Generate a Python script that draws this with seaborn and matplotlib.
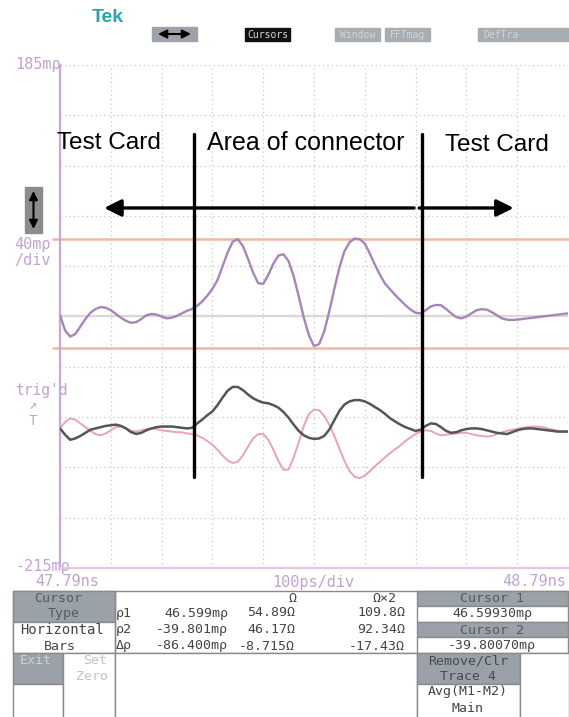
import pandas as pd
import seaborn as sns
import matplotlib.pyplot as plt
from matplotlib.patches import Rectangle

sns.set_style("white")
plt.rcParams['font.family'] = ['DejaVu Sans']

'''scope data: time in ps after 47.79 ns, levels in m-rho'''
t_ps = list(range(0, 1001, 10))

rho_trace = [-14, -26, -31, -29, -23, -17, -12, -9, -7.5, -8,
             -10, -13, -16, -18.5, -20, -19.5, -17, -14, -13, -13.5,
             -15, -16.5, -16, -14.5, -12.5, -10.5, -9, -6.5, -3, 1.5,
             7, 14, 25, 36, 44.5, 46.5, 41, 31, 20, 11.5,
             11, 18, 27, 33.5, 34.5, 29, 17, 1, -16, -30,
             -38.5, -37, -27, -11, 7, 24, 37, 44, 47, 46.5,
             43, 35, 26, 18, 11, 6.5, 2, -2, -6, -9.5,
             -12, -12.5, -10, -7, -5.8, -6, -9, -12.5, -15.5, -16.5,
             -15, -12.5, -10, -9.2, -9.5, -11.5, -14, -16.5, -17.5, -17.8,
             -17.5, -17, -16.5, -16, -15.5, -15, -14.5, -14, -13.5, -13,
             -12.5]

m1_trace = [-104, -109, -113, -112, -110, -107.5, -105, -104, -103, -102,
            -101.5, -101, -102, -104, -107, -108.4, -107.5, -105.5, -104, -103,
            -102.5, -102.5, -102.5, -103, -103.5, -104, -103.5, -100, -97, -93.5,
            -90.5, -85.5, -79.5, -74, -71, -71, -73.5, -77, -80, -82,
            -83.5, -84, -85.5, -87.5, -91, -95.5, -101, -106, -109.5, -111.5,
            -112.3, -112, -110, -105, -97.5, -90, -85, -82.5, -81.5, -81.5,
            -82.5, -84.5, -87, -89.5, -92.5, -96, -98.5, -101, -103, -104.5,
            -106, -105, -102, -100, -100.5, -103, -106, -107.5, -107, -105.5,
            -104.5, -104, -104, -104.5, -105.5, -106.5, -107.5, -108, -108.5, -107,
            -105.5, -104.5, -104, -104, -104.5, -105, -105.5, -106, -106.5, -106.5,
            -106.5]

m2_trace = [-104, -99, -96, -97, -100, -103, -106, -108.5, -109.5, -108,
            -105.5, -103, -102.5, -104, -106, -106.5, -105.5, -104.5, -104, -104.5,
            -105.5, -106, -106.5, -107, -107, -108, -108.5, -109.5, -111.5, -114,
            -117, -121, -125.5, -129.5, -131.5, -130.5, -125.5, -118.5, -112, -108.5,
            -108.5, -113, -121, -130, -137, -136.5, -127, -115, -102, -92.5,
            -89, -89.5, -94, -101, -110, -120, -130, -138, -142.5, -143.5,
            -141.5, -138, -134, -130.5, -127, -123.5, -120.5, -117.5, -114, -111,
            -108.5, -106.5, -105.5, -106, -108, -109.5, -109, -108.5, -108, -107.5,
            -107.5, -108.5, -109.5, -110, -110.5, -110, -108.5, -107, -106, -105,
            -104.5, -103.5, -103, -102.5, -102.5, -103, -104, -105, -106, -106.5,
            -106.5]

cursor_levels = [46.599, -39.801]
reference_level = -15
connector_edges = [263.7, 712]
y_min, y_max = -215, 185

df = pd.DataFrame({"t": t_ps, "rho": rho_trace, "m1": m1_trace, "m2": m2_trace})

W, H = 569, 717
fig = plt.figure(figsize=(W / 100, H / 100), dpi=100)
fig.patch.set_facecolor("white")

'''overlay in pixel units for the scope menus'''
ui = fig.add_axes([0, 0, 1, 1])
ui.set_xlim(0, W)
ui.set_ylim(H, 0)
ui.axis("off")

mono = "DejaVu Sans Mono"
lab_col = "#c2a2d2"
panel_gray = "#9aa1a8"
edge = "#8a8a8a"


def box(x0, y0, x1, y1, fc="white", ec=edge, lw=1):
    ui.add_patch(Rectangle((x0, y0), x1 - x0, y1 - y0, fc=fc, ec=ec, lw=lw))


def txt(x, y, s, col="#444444", size=9.5, ha="center", fam=mono, **kw):
    ui.text(x, y, s, color=col, fontsize=size, ha=ha, va="center", family=fam, **kw)


# top bar
txt(108, 18, "Tek", col="#2aa3ad", size=14, fam="Liberation Sans", weight="bold")
box(152, 27, 197, 41, fc="#9ea3a9", ec="#9ea3a9")
ui.annotate("", xy=(191, 34), xytext=(158, 34),
            arrowprops=dict(arrowstyle="<|-|>,head_length=0.5,head_width=0.25",
                            color="black", lw=1.5, shrinkA=0, shrinkB=0))
box(245, 28, 290, 41, fc="#111111", ec="#111111")
txt(267.5, 34.5, "Cursors", col="#d8d8d8", size=7)
box(335, 28, 380, 41, fc="#a8adb2", ec="#a8adb2")
txt(357.5, 34.5, "Window", col="#d4d4d4", size=7)
box(385, 28, 430, 41, fc="#a8adb2", ec="#a8adb2")
txt(407.5, 34.5, "FFTmag", col="#d4d4d4", size=7)
box(478, 28, 575, 41, fc="#a8adb2", ec="#a8adb2")
txt(483, 34.5, "DefTra", col="#d4d4d4", size=7, ha="left")

# left side labels
txt(15, 65, "185m\u03c1", col=lab_col, ha="left", size=11)
box(25, 187, 42, 233, fc="#8c8c8c", ec="#8c8c8c")
ui.annotate("", xy=(33.5, 191), xytext=(33.5, 229),
            arrowprops=dict(arrowstyle="<|-|>,head_length=0.5,head_width=0.25",
                            color="black", lw=1.5, shrinkA=0, shrinkB=0))
txt(14, 244, "40m\u03c1", col=lab_col, ha="left", size=11)
txt(14, 260, "/div", col=lab_col, ha="left", size=11)
txt(15, 390, "trig'd", col=lab_col, ha="left", size=10.5)
txt(33, 405, "\u2197", col=lab_col, size=10)
txt(33, 421, "T", col=lab_col, size=10)
txt(15, 567, "-215m\u03c1", col=lab_col, ha="left", size=11)
txt(35, 582, "47.79ns", col=lab_col, ha="left", size=11)
txt(313, 582, "100ps/div", col=lab_col, size=11)
txt(566, 582, "48.79ns", col=lab_col, ha="right", size=11)

# bottom readout panel
box(13, 591, 569, 653, ec=edge)
box(13, 591, 115, 622, fc=panel_gray)
box(13, 622, 115, 653)
box(13, 653, 63, 684, fc=panel_gray)
box(13, 684, 63, 720)
box(63, 653, 115, 720)
box(115, 653, 417, 720)
box(417, 591, 568, 606, fc=panel_gray)
box(417, 606, 568, 622)
box(417, 622, 568, 637, fc=panel_gray)
box(417, 637, 568, 653)
box(417, 653, 520, 684, fc=panel_gray)
box(417, 684, 520, 720)
box(520, 653, 569, 720)
ui.plot([115, 115], [591, 653], color=edge, lw=1)

txt(58, 598, "Cursor", col="#555b60")
txt(64, 613, "Type", col="#555b60")
txt(62, 630, "Horizontal", size=10)
txt(60, 646, "Bars")
txt(36, 661, "Exit", col="#d0d0d0")
txt(95, 661, "Set", col="#c4c4c4")
txt(92, 676, "Zero", col="#c4c4c4")

rows = [("\u03c11", "46.599m\u03c1", "54.89\u03a9", "109.8\u03a9"),
        ("\u03c12", "-39.801m\u03c1", "46.17\u03a9", "92.34\u03a9"),
        ("\u0394\u03c1", "-86.400m\u03c1", "-8.715\u03a9", "-17.43\u03a9")]
txt(297, 598, "\u03a9", ha="right")
txt(397, 598, "\u03a9\u00d72", ha="right")
for i, (a, b, c, d) in enumerate(rows):
    y = 613 + i * 16.5
    txt(116, y, a, ha="left")
    txt(228, y, b, ha="right")
    txt(295, y, c, ha="right")
    txt(405, y, d, ha="right")

txt(492, 598, "Cursor 1", col="#555b60")
txt(492, 614, "46.59930m\u03c1")
txt(492, 630, "Cursor 2", col="#555b60")
txt(492, 646, "-39.80070m\u03c1")
txt(468, 661, "Remove/Clr", col="#454a50")
txt(468, 676, "Trace 4", col="#454a50")
txt(468, 692, "Avg(M1-M2)")
txt(468, 708, "Main")

'''waveform graticule'''
ax = fig.add_axes([60 / W, 1 - 568 / H, 508 / W, 503 / H])
ax.set_facecolor("none")
ax.set_xlim(0, 1000)
ax.set_ylim(y_min, y_max)
ax.set_xticks(range(0, 1001, 100))
ax.set_yticks(range(y_min, y_max + 1, 40))
ax.tick_params(length=0, labelbottom=False, labelleft=False)
ax.grid(True, ls=(0, (1, 2.5)), color="#c9c9c9", lw=0.9)
for s in ["top", "right"]:
    ax.spines[s].set_visible(False)
ax.spines["left"].set_color("#c8a8d8")
ax.spines["left"].set_linewidth(1.6)
ax.spines["bottom"].set_color("#e2c6e2")
ax.spines["bottom"].set_linewidth(1.6)

ax.axhline(reference_level, color="#d8d8d8", lw=1.6, zorder=1)
for c in cursor_levels:
    ax.plot([-14, 1000], [c, c], color="#f2b8a4", lw=1.8, zorder=1, clip_on=False)

sns.lineplot(data=df, x="t", y="m2", ax=ax, color="#eaa2b6", lw=1.4, zorder=3)
sns.lineplot(data=df, x="t", y="m1", ax=ax, color="#555555", lw=1.8, zorder=4)
sns.lineplot(data=df, x="t", y="rho", ax=ax, color="#a884b8", lw=1.7, zorder=4)
ax.set_xlabel("")
ax.set_ylabel("")

# annotation for the connector region
for xe in connector_edges:
    ax.plot([xe, xe], [-142.5, 130], color="black", lw=2.4, zorder=6)
ax.annotate("", xy=(87, 71.3), xytext=(697, 71.3),
            arrowprops=dict(arrowstyle="-|>,head_length=0.6,head_width=0.3",
                            mutation_scale=17, color="black", lw=2.4,
                            shrinkA=0, shrinkB=0), zorder=6)
ax.annotate("", xy=(893, 71.3), xytext=(707, 71.3),
            arrowprops=dict(arrowstyle="-|>,head_length=0.6,head_width=0.3",
                            mutation_scale=17, color="black", lw=2.4,
                            shrinkA=0, shrinkB=0), zorder=6)
font_lbl = dict(family="Liberation Sans", color="black", va="center")
ax.text(-6, 123, "Test Card", ha="left", fontsize=17.6, **font_lbl)
ax.text(290, 123, "Area of connector", ha="left", fontsize=18, **font_lbl)
ax.text(757, 121.4, "Test Card", ha="left", fontsize=17.6, **font_lbl)

fig.savefig("out.png", dpi=100)
